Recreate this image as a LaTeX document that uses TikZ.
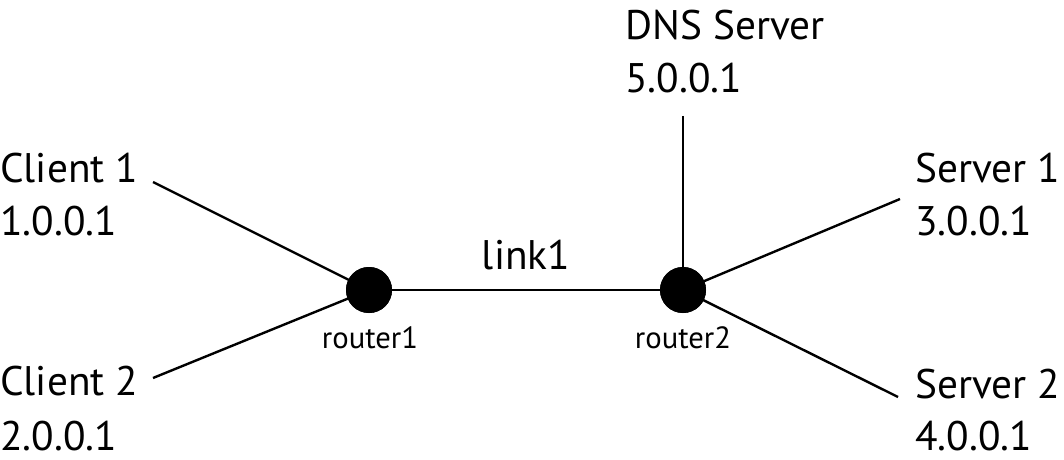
\documentclass[tikz,border=0pt]{standalone}
\usepackage{fontspec}
\setmainfont{PT Sans}
\begin{document}
\begin{tikzpicture}[x=0.75pt, y=-0.75pt,
  host/.style={font=\fontsize{31}{37}\selectfont, inner sep=0pt},
  rlabel/.style={font=\fontsize{23}{27}\selectfont, inner sep=0pt},
  router/.style={circle, fill=black, minimum size=34.5pt, inner sep=0pt},
  wire/.style={line width=1.8pt}]
\useasboundingbox (0,0) rectangle (1064,460);

% routers
\node[router] (router1) at (369,290) {};
\node[router] (router2) at (683,290) {};
\node[rlabel, anchor=base] (router1lbl) at (370,348) {router1};
\node[rlabel, anchor=base] (router2lbl) at (683,348) {router2};

% hosts
\node[host, anchor=base west] (client1) at (0,182) {Client 1};
\node[host, anchor=base west] (client1ip) at (0,235) {1.0.0.1};
\node[host, anchor=base west] (client2) at (0,395) {Client 2};
\node[host, anchor=base west] (client2ip) at (0,450) {2.0.0.1};
\node[host, anchor=base west] (dns) at (625,40) {DNS Server};
\node[host, anchor=base west] (dnsip) at (625,93) {5.0.0.1};
\node[host, anchor=base west] (server1) at (915,182) {Server 1};
\node[host, anchor=base west] (server1ip) at (915,235) {3.0.0.1};
\node[host, anchor=base west] (server2) at (915,398) {Server 2};
\node[host, anchor=base west] (server2ip) at (915,450) {4.0.0.1};

% line ends
\coordinate (client1end) at (153,182);
\coordinate (client2end) at (153,378);
\coordinate (dnsend) at (683,116);
\coordinate (server1end) at (900,199);
\coordinate (server2end) at (898,397);

% links
\draw[wire] (router1) -- (router2) node[host, midway, above=14pt] (link1) {link1};
\draw[wire] (client1end) -- (router1.center);
\draw[wire] (client2end) -- (router1.center);
\draw[wire] (dnsend) -- (router2.center);
\draw[wire] (server1end) -- (router2.center);
\draw[wire] (server2end) -- (router2.center);
\node[router] at (router1) {};
\node[router] at (router2) {};
\end{tikzpicture}
\end{document}
